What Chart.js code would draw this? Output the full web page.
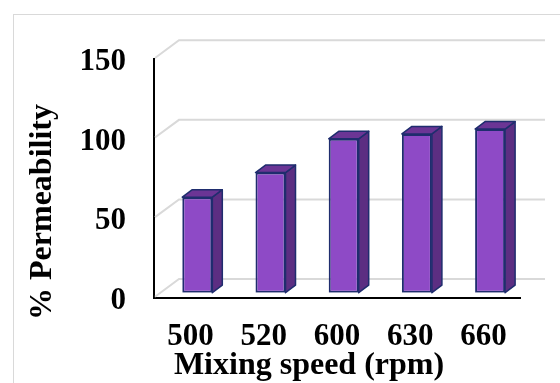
<!DOCTYPE html>
<html>
<head>
<meta charset="utf-8">
<script src="https://cdn.jsdelivr.net/npm/chart.js@4/dist/chart.umd.min.js"></script>
<style>
  html, body { margin: 0; padding: 0; background: #fff; }
  #wrap { width: 560px; height: 383px; }
</style>
</head>
<body>
<div id="wrap"><canvas id="chart" width="560" height="383"></canvas></div>
<script>
const speeds = ["500", "520", "600", "630", "660"]
const permeability = [60, 75.5, 96.7, 99.8, 102.8]
const yTicks = [0, 50, 100, 150]

const FONT = "'Liberation Serif', 'Times New Roman', serif"
// 3D look: front plane (axes) -> back wall, and front plane -> front face of the bars
const DEPTH = { x: 25, y: -18.7 }
const BAR_SHIFT = { x: 6.7, y: -5 }
const BAR_DEPTH = { x: 10, y: -7.5 }
const COLORS = { front: "#8E4AC6", side: "#5C2E82", top: "#6B3595", edge: "#1F2D6E", grid: "#d9d9d9" }

const threeD = {
  id: "threeD",
  beforeDraw(chart) {
    const ctx = chart.ctx
    ctx.save()
    ctx.strokeStyle = COLORS.grid
    ctx.lineWidth = 1
    ctx.strokeRect(13.5, 14.5, 700, 500)
    ctx.restore()
  },
  beforeDatasetsDraw(chart) {
    const { ctx, chartArea: a, scales: { y } } = chart
    ctx.save()
    ctx.strokeStyle = COLORS.grid
    ctx.lineWidth = 2
    yTicks.forEach(v => {
      const py = y.getPixelForValue(v)
      ctx.beginPath()
      ctx.moveTo(a.left + 1, py - 1)
      ctx.lineTo(a.left + DEPTH.x, py + DEPTH.y)
      ctx.lineTo(a.right + DEPTH.x, py + DEPTH.y)
      ctx.stroke()
    })
    ctx.restore()
    // bars sit a little behind the axis plane
    ctx.save()
    ctx.translate(BAR_SHIFT.x, BAR_SHIFT.y)
  },
  afterDatasetsDraw(chart) {
    const ctx = chart.ctx
    const dx = BAR_DEPTH.x, dy = BAR_DEPTH.y
    chart.getDatasetMeta(0).data.forEach(bar => {
      const { x, y, base, width } = bar.getProps(["x", "y", "base", "width"], true)
      const l = x - width / 2, r = x + width / 2
      ctx.lineWidth = 1.5
      ctx.strokeStyle = COLORS.edge
      ctx.lineJoin = "round"
      // side face
      ctx.beginPath()
      ctx.moveTo(r, y)
      ctx.lineTo(r + dx, y + dy)
      ctx.lineTo(r + dx, base + dy)
      ctx.lineTo(r, base)
      ctx.closePath()
      ctx.fillStyle = COLORS.side
      ctx.fill()
      ctx.stroke()
      // top face
      ctx.beginPath()
      ctx.moveTo(l, y)
      ctx.lineTo(l + dx, y + dy)
      ctx.lineTo(r + dx, y + dy)
      ctx.lineTo(r, y)
      ctx.closePath()
      ctx.fillStyle = COLORS.top
      ctx.fill()
      ctx.stroke()
    })
    ctx.restore()
  },
  afterDraw(chart) {
    const ctx = chart.ctx
    ctx.save()
    ctx.fillStyle = "#000"
    ctx.font = `bold 32px ${FONT}`
    ctx.textAlign = "center"
    ctx.textBaseline = "alphabetic"
    ctx.fillText("Mixing speed (rpm)", 309, 374)
    ctx.translate(51, 212)
    ctx.rotate(-Math.PI / 2)
    ctx.fillText("% Permeability", 0, 0)
    ctx.restore()
  }
}

const tickFont = { family: FONT, size: 31, weight: "bold" }

new Chart(document.getElementById("chart"), {
  type: "bar",
  data: {
    labels: speeds,
    datasets: [{
      data: permeability,
      backgroundColor: COLORS.front,
      borderColor: COLORS.edge,
      borderWidth: 2,
      borderSkipped: false,
      categoryPercentage: 1,
      barPercentage: 0.41
    }]
  },
  options: {
    responsive: false,
    animation: false,
    devicePixelRatio: 1,
    layout: { padding: { top: 59, right: 40, left: 0, bottom: 0 } },
    plugins: { legend: { display: false }, tooltip: { enabled: false } },
    scales: {
      x: {
        grid: { display: false, drawTicks: false },
        border: { display: true, color: "#000", width: 2 },
        ticks: { padding: 21, color: "#000", font: tickFont },
        afterFit(s) { s.height = 85.3 }
      },
      y: {
        min: 0,
        max: 150,
        grid: { display: false, drawTicks: false },
        border: { display: true, color: "#000", width: 2 },
        ticks: { stepSize: 50, padding: 28, labelOffset: 3, color: "#000", font: tickFont },
        afterFit(s) { s.width = 154 }
      }
    }
  },
  plugins: [threeD]
})
</script>
</body>
</html>
